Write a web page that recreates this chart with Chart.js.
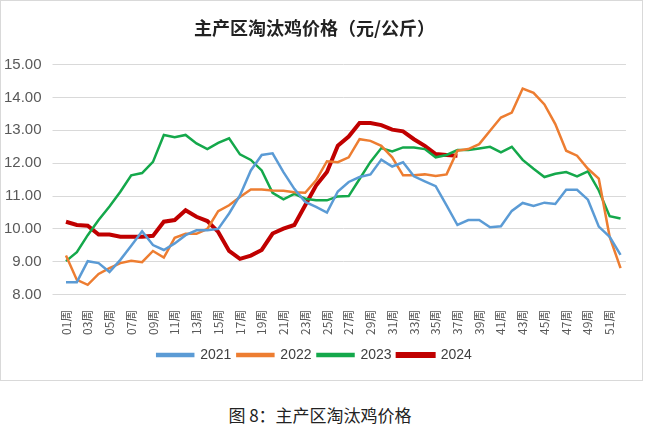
<!DOCTYPE html>
<html>
<head>
<meta charset="utf-8">
<script src="https://cdn.jsdelivr.net/npm/chart.js@4"></script>
<style>
  body { margin: 0; background: #fff; width: 649px; height: 427px; overflow: hidden; }
  #box { position: absolute; left: 0; top: 0; width: 641px; height: 379px; border: 1px solid #d9d9d9; }
  #caption { position: absolute; left: 0; top: 402px; width: 640px; text-align: center;
    font-family: "Noto Sans CJK SC", sans-serif; font-size: 17px; color: #222; }
</style>
</head>
<body>
<div id="box"><canvas id="chart" width="641" height="379"></canvas></div>
<div id="caption">图 8：主产区淘汰鸡价格</div>
<script>
// weeks 01..52
const weeks = [];
for (let i = 1; i <= 52; i++) weeks.push((i < 10 ? "0" : "") + i + "周");

const y2021 = [8.38, 8.38, 9.02, 8.96, 8.69, 9.06, 9.49, 9.93, 9.51, 9.36,
  9.56, 9.81, 9.96, 9.96, 10.0, 10.47, 11.02, 11.78, 12.25, 12.3,
  11.73, 11.22, 10.82, 10.67, 10.5, 11.14, 11.43, 11.58, 11.66, 12.11,
  11.9, 12.03, 11.6, 11.45, 11.3, 10.72, 10.12, 10.27, 10.27, 10.05,
  10.08, 10.55, 10.79, 10.7, 10.8, 10.76, 11.19, 11.19, 10.89, 10.07,
  9.76, 9.21];
const y2022 = [9.19, 8.45, 8.3, 8.63, 8.81, 8.96, 9.03, 8.99, 9.33, 9.13,
  9.73, 9.85, 9.85, 10.0, 10.54, 10.72, 10.97, 11.2, 11.2, 11.17,
  11.16, 11.12, 11.1, 11.48, 12.06, 12.03, 12.18, 12.73, 12.68, 12.53,
  12.18, 11.63, 11.63, 11.66, 11.61, 11.66, 12.38, 12.43, 12.58, 12.99,
  13.39, 13.54, 14.27, 14.14, 13.79, 13.19, 12.38, 12.23, 11.83, 11.53,
  9.76, 8.81];
const y2023 = [9.02, 9.29, 9.81, 10.27, 10.68, 11.13, 11.63, 11.7, 12.04, 12.86,
  12.79, 12.86, 12.6, 12.43, 12.62, 12.76, 12.27, 12.1, 11.78, 11.1,
  10.9, 11.07, 10.92, 10.87, 10.87, 10.99, 11.0, 11.52, 12.04, 12.46,
  12.36, 12.48, 12.48, 12.43, 12.18, 12.25, 12.4, 12.4, 12.45, 12.5,
  12.33, 12.5, 12.1, 11.83, 11.58, 11.68, 11.73, 11.6, 11.75, 11.17,
  10.39, 10.32];
const y2024 = [10.22, 10.12, 10.1, 9.83, 9.83, 9.76, 9.76, 9.76, 9.79, 10.22,
  10.27, 10.57, 10.37, 10.24, 9.91, 9.33, 9.09, 9.19, 9.36, 9.86,
  10.01, 10.12, 10.72, 11.32, 11.73, 12.53, 12.81, 13.22, 13.22, 13.16,
  13.02, 12.97, 12.73, 12.53, 12.28, 12.25, 12.23];

const yTicks = [8, 9, 10, 11, 12, 13, 14, 15];

function series(label, data, color, width) {
  return {
    label: label,
    data: data,
    borderColor: color,
    backgroundColor: color,
    borderWidth: width,
    pointRadius: 0,
    tension: 0,
    fill: false,
  };
}

new Chart("chart", {
  type: "line",
  data: {
    labels: weeks,
    datasets: [
      series("2021", y2021, "#5b9bd5", 2.5),
      series("2022", y2022, "#ed7d31", 2.5),
      series("2023", y2023, "#14a84b", 2.5),
      series("2024", y2024, "#c00000", 4),
    ],
  },
  options: {
    responsive: false,
    animation: false,
    layout: { padding: { left: -8, right: 6, top: 12, bottom: 8 } },
    scales: {
      x: {
        offset: true,
        grid: { display: false },
        border: { color: "#d9d9d9" },
        ticks: {
          autoSkip: false,
          maxRotation: 90,
          minRotation: 90,
          color: "#595959",
          font: { size: 12, family: "Noto Sans CJK SC" },
          padding: 7,
          callback: function (v, i) {
            return i % 2 === 0 ? weeks[i] : "";
          },
        },
      },
      y: {
        min: 8,
        max: 15,
        afterBuildTicks: (axis) => {
          axis.ticks = yTicks.map((v) => ({ value: v }));
        },
        border: { display: false },
        grid: { color: "#d9d9d9", lineWidth: 1 },
        ticks: {
          color: "#595959",
          font: { size: 15 },
          padding: 11,
          callback: (v) => v.toFixed(2),
        },
      },
    },
    plugins: {
      title: {
        display: true,
        text: "主产区淘汰鸡价格（元/公斤）",
        color: "#222",
        font: { size: 18, weight: "bold", family: "Noto Sans CJK SC" },
        padding: { top: 4, bottom: 26 },
      },
      legend: {
        position: "bottom",
        labels: {
          boxWidth: 36,
          boxHeight: 2,
          color: "#404040",
          font: { size: 14 },
          padding: 6,
        },
      },
      tooltip: { enabled: false },
    },
  },
});
</script>
</body>
</html>
